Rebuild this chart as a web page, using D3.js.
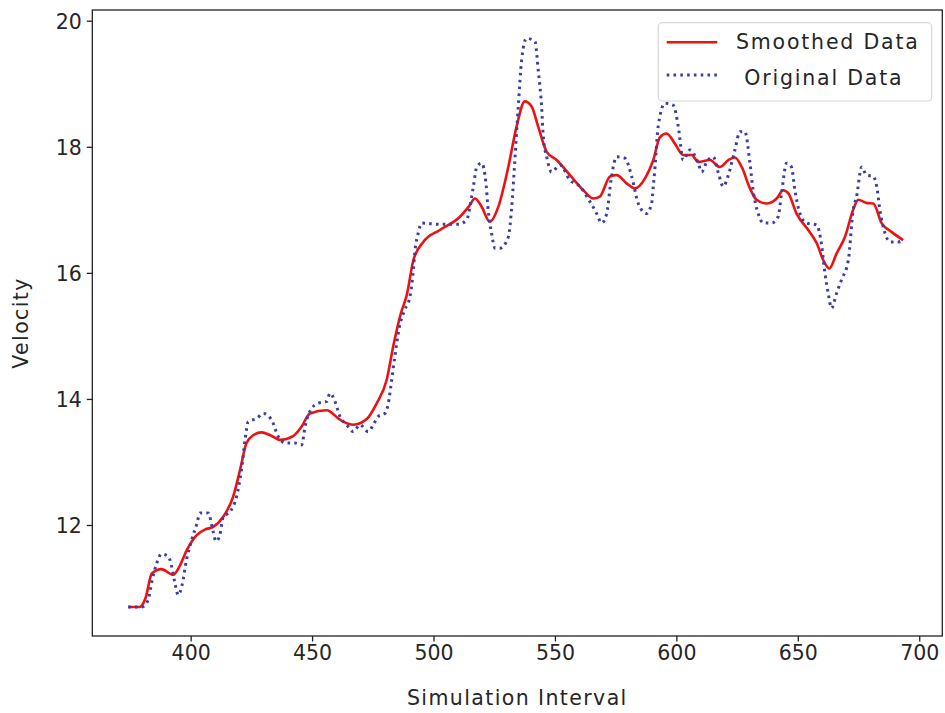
<!DOCTYPE html>
<html>
<head>
<meta charset="utf-8">
<script src="https://cdn.jsdelivr.net/npm/d3@7"></script>
<style>
  body { margin: 0; background: #fff; }
  svg text { font-family: "DejaVu Sans", sans-serif; fill: #262626; }
</style>
</head>
<body>
<div class="chart"></div>
<script>
// smoothed series (red)
const smoothX = [374.3, 379, 381.5, 384, 388, 392.8, 395.5, 398.4, 402.5, 406, 409.3, 413.4, 417.5, 420.5, 423, 426, 429.2, 433, 436.8, 442.2, 445.5, 449.1, 456, 461.5, 467, 472.5, 476.6, 480.7, 483.5, 486.5, 489, 491.7, 495.8, 502.6, 510.9, 514.5, 517.1, 519.8, 523.2, 526.7, 530.8, 534.2, 537.6, 540.4, 543.1, 546.6, 550.7, 556.2, 561.7, 565.8, 568.5, 572.7, 575.4, 579.5, 582.9, 587.1, 590.5, 593.2, 596, 599.4, 602.8, 606.3, 609, 613.8, 617.9, 621.4, 624.1, 626.9, 630.3, 633, 637.2, 641.3, 644, 646.1, 649.5, 654.3, 657.8, 660.5, 663, 666, 669.4, 672.8, 674.9, 678.3, 681.1, 684.5, 688.6, 693.4];
const smoothY = [10.70, 10.70, 10.85, 11.23, 11.30, 11.21, 11.35, 11.60, 11.84, 11.93, 11.97, 12.13, 12.45, 12.90, 13.30, 13.43, 13.47, 13.42, 13.35, 13.41, 13.55, 13.77, 13.82, 13.67, 13.59, 13.68, 13.93, 14.30, 14.85, 15.35, 15.65, 16.20, 16.49, 16.68, 16.89, 17.05, 17.18, 17.05, 16.81, 17.05, 17.68, 18.32, 18.72, 18.64, 18.32, 17.92, 17.79, 17.55, 17.31, 17.18, 17.21, 17.53, 17.55, 17.42, 17.34, 17.50, 17.79, 18.15, 18.21, 18.05, 17.87, 17.87, 17.76, 17.79, 17.68, 17.79, 17.83, 17.68, 17.34, 17.16, 17.10, 17.18, 17.31, 17.26, 16.94, 16.68, 16.47, 16.20, 16.07, 16.31, 16.57, 17.00, 17.16, 17.11, 17.10, 16.79, 16.65, 16.52];

// original series (blue dotted)
const origX = [374.3, 380, 382.5, 384, 386, 388, 390.8, 392.2, 393.5, 394.9, 396.3, 398.4, 400.4, 402.7, 403.8, 407.2, 409.3, 410.4, 412, 413.4, 416.2, 418.9, 421, 422.4, 423.7, 427.2, 429.9, 433.3, 436.1, 438.8, 442.9, 445.7, 447.1, 449.8, 452.5, 456, 457.4, 459.4, 461.5, 464.2, 467, 469.7, 473.1, 475.2, 477.2, 480, 481.4, 482.5, 484, 486, 488, 490.3, 491.7, 492.4, 493.7, 495.1, 502.6, 510.2, 513.6, 516.4, 517.8, 519.8, 521.6, 522.5, 523.9, 525.3, 527.4, 530.8, 532.2, 533.5, 534.9, 536.3, 538.3, 541.8, 543.1, 544.5, 545.2, 546.6, 548.6, 552.1, 556.2, 560.3, 564.4, 567.2, 569.2, 571.3, 573.3, 575.4, 578.8, 581.6, 584.3, 587.7, 589.8, 590.5, 591.2, 592.5, 595.3, 598.7, 600.8, 602.8, 605.6, 609, 610.4, 612.5, 615.2, 617.3, 619.3, 621.4, 624.1, 626.2, 628.2, 630.3, 631.6, 633.7, 635.8, 639.2, 641.9, 643.3, 645.4, 647.4, 648.8, 650.9, 653.6, 657.8, 659.8, 661.2, 662.5, 663.9, 666, 668, 670.8, 672.8, 674.2, 676.3, 678.3, 681.1, 682.5, 683.8, 685.9, 688, 691.3, 693.4];
const origY = [10.70, 10.70, 10.81, 11.10, 11.39, 11.54, 11.50, 11.34, 11.08, 10.89, 11.02, 11.47, 11.76, 12.04, 12.19, 12.19, 11.89, 11.74, 11.84, 12.13, 12.21, 12.45, 12.90, 13.35, 13.64, 13.69, 13.77, 13.67, 13.40, 13.30, 13.30, 13.27, 13.56, 13.85, 13.93, 13.96, 14.09, 13.96, 13.72, 13.59, 13.48, 13.59, 13.48, 13.59, 13.72, 13.77, 13.93, 14.22, 14.65, 15.15, 15.40, 15.62, 16.05, 16.36, 16.63, 16.79, 16.77, 16.77, 16.84, 17.37, 17.68, 17.74, 17.42, 17.00, 16.63, 16.39, 16.39, 16.57, 17.05, 17.79, 18.64, 19.38, 19.72, 19.67, 19.22, 18.64, 18.16, 17.84, 17.60, 17.71, 17.47, 17.37, 17.13, 16.94, 16.79, 16.94, 17.53, 17.84, 17.82, 17.53, 17.10, 16.94, 17.10, 17.37, 17.68, 18.32, 18.69, 18.66, 18.32, 17.79, 17.95, 17.74, 17.60, 17.76, 17.84, 17.58, 17.37, 17.55, 17.95, 18.24, 18.24, 17.74, 17.31, 16.94, 16.79, 16.79, 16.89, 17.26, 17.74, 17.68, 17.31, 16.94, 16.79, 16.76, 16.44, 15.99, 15.68, 15.44, 15.68, 15.89, 16.20, 17.00, 17.21, 17.68, 17.55, 17.53, 17.37, 17.00, 16.63, 16.49, 16.49, 16.52];

const xTicks = [400, 450, 500, 550, 600, 650, 700];
const yTicks = [12, 14, 16, 18, 20];
const labels = ['Smoothed Data', ' Original Data'];

const w = 945, h = 713;
const pLeft = 92.3, pRight = 942.3, pTop = 10, pBottom = 636;
const fs = 20.5;

const svg = d3.select('div.chart').append('svg')
  .attr('width', w)
  .attr('height', h);

const xScale = d3.scaleLinear().domain([359.5, 709.5]).range([pLeft, pRight]);
const yScale = d3.scaleLinear().domain([10.239, 20.17]).range([pBottom, pTop]);

const line = d3.line()
  .x(d => xScale(d[0]))
  .y(d => yScale(d[1]))
  .curve(d3.curveMonotoneX);

const smooth = smoothX.map((x, i) => [x, smoothY[i]]);
const orig = origX.map((x, i) => [x, origY[i]]);

svg.append('path')
  .attr('d', line(smooth))
  .attr('fill', 'none')
  .attr('stroke', '#ee1111')
  .attr('stroke-width', 2.6);

svg.append('path')
  .attr('d', line(orig))
  .attr('fill', 'none')
  .attr('stroke', '#3a3ea6')
  .attr('stroke-width', 3)
  .attr('stroke-dasharray', '2.6,4.2');

// axes
const xAxis = d3.axisBottom(xScale).tickValues(xTicks).tickSize(5.5).tickSizeOuter(0).tickPadding(4);
const gx = svg.append('g')
  .attr('transform', 'translate(0,' + pBottom + ')')
  .call(xAxis);

const yAxis = d3.axisLeft(yScale).tickValues(yTicks).tickSize(5.5).tickSizeOuter(0).tickPadding(5);
const gy = svg.append('g')
  .attr('transform', 'translate(' + pLeft + ',0)')
  .call(yAxis);

[gx, gy].forEach(g => {
  g.select('.domain').remove();
  g.selectAll('.tick line').attr('stroke', '#222').attr('stroke-width', 1.3);
  g.selectAll('.tick text')
    .style('font-family', '"DejaVu Sans", sans-serif')
    .style('font-size', fs + 'px')
    .attr('fill', '#262626');
});
gy.selectAll('.tick text').attr('dy', '0.36em');

svg.append('rect')
  .attr('x', pLeft)
  .attr('y', pTop)
  .attr('width', pRight - pLeft)
  .attr('height', pBottom - pTop)
  .attr('fill', 'none')
  .attr('stroke', '#222')
  .attr('stroke-width', 1.3);

svg.append('text')
  .text('Simulation Interval')
  .attr('x', (pLeft + pRight) / 2)
  .attr('y', 705)
  .attr('text-anchor', 'middle')
  .style('font-size', fs + 'px')
  .style('letter-spacing', '1.4px');

svg.append('text')
  .text('Velocity')
  .attr('transform', 'translate(28,' + ((pTop + pBottom) / 2) + ') rotate(-90)')
  .attr('text-anchor', 'middle')
  .style('font-size', fs + 'px')
  .style('letter-spacing', '1.4px');

// legend
const lg = svg.append('g');
lg.append('rect')
  .attr('x', 658.3)
  .attr('y', 22.7)
  .attr('width', 273.4)
  .attr('height', 78.3)
  .attr('rx', 4)
  .attr('fill', 'white')
  .attr('fill-opacity', 0.8)
  .attr('stroke', '#d8d8d8')
  .attr('stroke-width', 1.2);

lg.append('line')
  .attr('x1', 666.7).attr('x2', 717.3)
  .attr('y1', 42.3).attr('y2', 42.3)
  .attr('stroke', '#ee1111')
  .attr('stroke-width', 2.6);

lg.append('line')
  .attr('x1', 666.7).attr('x2', 717.3)
  .attr('y1', 75).attr('y2', 75)
  .attr('stroke', '#3a3ea6')
  .attr('stroke-width', 3)
  .attr('stroke-dasharray', '2.6,4.2');

lg.selectAll('text.lab')
  .data(labels)
  .enter()
  .append('text')
  .attr('class', 'lab')
  .attr('x', 736)
  .attr('y', (d, i) => 49.3 + i * 35.7)
  .style('font-size', fs + 'px')
  .style('letter-spacing', '1.8px')
  .style('white-space', 'pre')
  .text(d => d);
</script>
</body>
</html>
